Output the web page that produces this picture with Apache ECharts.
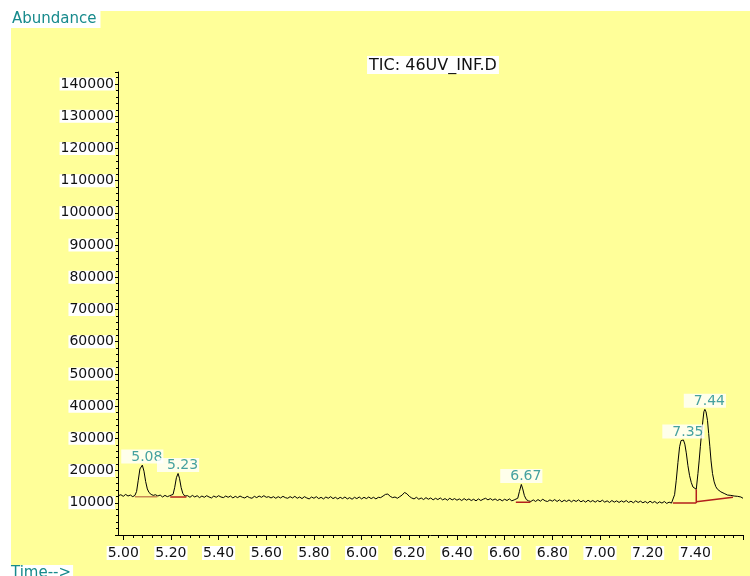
<!DOCTYPE html>
<html>
<head>
<meta charset="utf-8">
<script src="https://cdn.jsdelivr.net/npm/echarts@6/dist/echarts.min.js"></script>
<style>
  html, body { margin: 0; padding: 0; background: #ffffff; }
  #chart { width: 750px; height: 576px; }
</style>
</head>
<body>
<div id="chart"></div>
<script>
// Total ion chromatogram: retention time (min) and abundance of each scan
const retentionTime = [
  4.98, 4.99, 5.00, 5.01, 5.02, 5.03, 5.04,
  5.049, 5.056, 5.063, 5.070, 5.080, 5.087, 5.094, 5.101, 5.108, 5.117, 5.126, 5.135, 5.145,
  5.155, 5.165, 5.175, 5.185, 5.195,
  5.202, 5.209, 5.216, 5.223, 5.230, 5.236, 5.243, 5.250, 5.258, 5.266,
  5.27, 5.28, 5.29, 5.30, 5.31, 5.32, 5.33, 5.34, 5.35, 5.36, 5.37, 5.38, 5.39, 5.40,
  5.41, 5.42, 5.43, 5.44, 5.45, 5.46, 5.47, 5.48, 5.49, 5.50,
  5.51, 5.52, 5.53, 5.54, 5.55, 5.56, 5.57, 5.58, 5.59, 5.60,
  5.61, 5.62, 5.63, 5.64, 5.65, 5.66, 5.67, 5.68, 5.69, 5.70,
  5.71, 5.72, 5.73, 5.74, 5.75, 5.76, 5.77, 5.78, 5.79, 5.80,
  5.81, 5.82, 5.83, 5.84, 5.85, 5.86, 5.87, 5.88, 5.89, 5.90,
  5.91, 5.92, 5.93, 5.94, 5.95, 5.96, 5.97, 5.98, 5.99, 6.00,
  6.01, 6.02, 6.03, 6.04, 6.05, 6.06, 6.07,
  6.08, 6.09, 6.10, 6.11, 6.12, 6.13, 6.14, 6.15, 6.16, 6.17, 6.18, 6.19, 6.20,
  6.21, 6.22, 6.23, 6.24, 6.25, 6.26, 6.27, 6.28, 6.29, 6.30,
  6.31, 6.32, 6.33, 6.34, 6.35, 6.36, 6.37, 6.38, 6.39, 6.40,
  6.41, 6.42, 6.43, 6.44, 6.45, 6.46, 6.47, 6.48, 6.49, 6.50,
  6.51, 6.52, 6.53, 6.54, 6.55, 6.56, 6.57, 6.58, 6.59, 6.60,
  6.61, 6.62, 6.63, 6.64,
  6.648, 6.655, 6.662, 6.670, 6.676, 6.683, 6.691, 6.700, 6.710,
  6.72, 6.73, 6.74, 6.75, 6.76, 6.77, 6.78, 6.79, 6.80,
  6.81, 6.82, 6.83, 6.84, 6.85, 6.86, 6.87, 6.88, 6.89, 6.90,
  6.91, 6.92, 6.93, 6.94, 6.95, 6.96, 6.97, 6.98, 6.99, 7.00,
  7.01, 7.02, 7.03, 7.04, 7.05, 7.06, 7.07, 7.08, 7.09, 7.10,
  7.11, 7.12, 7.13, 7.14, 7.15, 7.16, 7.17, 7.18, 7.19, 7.20,
  7.21, 7.22, 7.23, 7.24, 7.25, 7.26, 7.27, 7.28, 7.29, 7.30,
  7.307, 7.313, 7.320, 7.327, 7.334, 7.340, 7.350, 7.356, 7.362, 7.369, 7.376, 7.383, 7.390, 7.397,
  7.404, 7.411, 7.416, 7.421, 7.426, 7.432, 7.436, 7.440, 7.445, 7.451, 7.456, 7.461, 7.466, 7.472,
  7.479, 7.486, 7.493, 7.500, 7.507, 7.514, 7.521, 7.528, 7.535, 7.542, 7.549, 7.556, 7.563, 7.570,
  7.577, 7.584, 7.591, 7.600
];
const abundance = [
  12200, 12500, 12000, 12600, 12100, 12400, 11900,
  12300, 13500, 17000, 20500, 21700, 19800, 16600, 14300, 13200, 12600, 12300, 12500, 12100,
  12400, 11800, 12300, 11900, 12200,
  11900, 12600, 14800, 17800, 19100, 17600, 14700, 12900, 12100, 11800,
  12200, 11700, 12300, 11800, 12200, 11600, 12100, 11700, 12200, 11800, 11500, 12100, 11700, 12200,
  11800, 11600, 12100, 11700, 12100, 11500, 12000, 11600, 12100, 11700,
  11500, 12000, 11600, 11400, 12000, 11600, 12100, 11700, 12200, 11700,
  11900, 11500, 11900, 11400, 11900, 11500, 12000, 11600, 11400, 11900,
  11500, 12000, 11400, 11800, 11300, 11900, 11500, 11200, 11800, 11400,
  11900, 11300, 11700, 11200, 11800, 11400, 11900, 11300, 11700, 11200,
  11700, 11300, 11800, 11200, 11600, 11100, 11700, 11300, 11800, 11200,
  11700, 11300, 11800, 11300, 11700, 11200, 11700,
  11600, 12100, 12600, 12700, 12000, 11600, 11800, 11400, 11900, 12400, 13200, 12800, 12000,
  11500, 11200, 11700, 11100, 11500, 11000, 11600, 11100, 11500, 10900,
  11400, 11000, 11500, 10900, 11300, 10800, 11400, 10900, 11300, 10800,
  11200, 10700, 11300, 10800, 11200, 10700, 11100, 10600, 11200, 10700,
  11100, 11400, 10900, 11300, 10800, 11200, 10700, 11100, 10600, 11100,
  10700, 11200, 10600, 10900,
  10500, 11400, 13500, 15700, 14300, 12200, 11000, 10600, 10400,
  10900, 10400, 11000, 10500, 11100, 10600, 10400, 10900, 10500,
  11000, 10400, 10900, 10300, 10800, 10400, 10900, 10300, 10800, 10400,
  10900, 10300, 10700, 10200, 10800, 10300, 10700, 10200, 10700, 10300,
  10800, 10200, 10600, 10100, 10700, 10200, 10600, 10100, 10600, 10200,
  10700, 10100, 10500, 10000, 10600, 10100, 10500, 10000, 10400, 9900,
  10500, 10000, 10400, 9800, 10300, 9900, 10400, 9800, 10200, 9900,
  10100, 12500, 17000, 22500, 27400, 29300, 29500, 28200, 25500, 21500, 18400, 16300, 14900, 14300,
  14200, 19100, 23000, 27400, 31500, 35700, 38300, 39000, 38200, 35600, 31500, 27400, 23000, 19100,
  16500, 15000, 14200, 13800, 13400, 13000, 12900, 12500, 12400, 12100, 12300, 11900, 12100, 11800,
  12000, 11600, 11800, 11400
];

// Integrated peaks: apex retention time and apex abundance
const peakTimes = [5.08, 5.23, 6.67, 7.35, 7.44];
const peakHeights = [21700, 19100, 15700, 29500, 39000];

// Integration baselines drawn under each peak
const integStartTime = [5.049, 5.197, 6.647, 7.306, 7.404];
const integStartAbund = [11900, 11800, 10150, 9930, 10300];
const integEndTime = [5.143, 5.265, 6.708, 7.404, 7.558];
const integEndAbund = [11900, 11800, 10150, 9930, 11700];
// Valley drop line between the two late peaks
const valleyDropTime = 7.404;
const valleyDropAbund = [9930, 14200];

// Axis ticks
const xTickLabels = ['5.00', '5.20', '5.40', '5.60', '5.80', '6.00', '6.20', '6.40', '6.60', '6.80', '7.00', '7.20', '7.40'];
const xMajorTicks = [5.0, 5.2, 5.4, 5.6, 5.8, 6.0, 6.2, 6.4, 6.6, 6.8, 7.0, 7.2, 7.4, 7.6];
const xMinorStep = 0.04;

const TEAL = '#178a8c';
const FONT = 'DejaVu Sans';
const X_MIN = 4.978, X_MAX = 7.6;

const xMinorTicks = [];
for (let k = 1; 5.0 + k * xMinorStep < X_MAX + 1e-9; k++) {
  const v = +(5.0 + k * xMinorStep).toFixed(2);
  if (!xMajorTicks.some(m => Math.abs(m - v) < 1e-6)) xMinorTicks.push(v);
}

const traceData = retentionTime.map((t, i) => [t, abundance[i]]);

const baselineSeries = integStartTime.map((t0, i) => ({
  type: 'line',
  xAxisIndex: 0,
  data: [[t0, integStartAbund[i]], [integEndTime[i], integEndAbund[i]]],
  showSymbol: false,
  symbol: 'none',
  silent: true,
  z: 3,
  lineStyle: { color: i === 0 ? '#c98b55' : '#b3201c', width: 1.5 }
}));

const chart = echarts.init(document.getElementById('chart'), null, { renderer: 'canvas' });

chart.setOption({
  animation: false,
  backgroundColor: '#ffffff',
  graphic: [
    {
      type: 'rect', z: -100, silent: true,
      shape: { x: 11, y: 11, width: 739, height: 565 },
      style: { fill: '#ffff99' }
    },
    {
      type: 'text', x: 11, y: 11, z: 10,
      style: {
        text: 'Abundance', fill: TEAL, font: '15px "DejaVu Sans"',
        backgroundColor: '#ffffff', padding: [1, 4, 1, 1], lineHeight: 15
      }
    },
    {
      type: 'text', x: 10, y: 565, z: 10,
      style: {
        text: 'Time-->', fill: TEAL, font: '15px "DejaVu Sans"',
        backgroundColor: '#ffffff', padding: [1, 2, 1, 1], lineHeight: 15
      }
    },
    {
      type: 'text', x: 433, y: 56, z: 10,
      style: {
        text: 'TIC: 46UV_INF.D', fill: '#111111', font: '16px "DejaVu Sans"',
        align: 'center', backgroundColor: '#ffffff', padding: [1, 2, 0, 2], lineHeight: 17
      }
    }
  ],
  grid: { left: 118, top: 72, right: 7, bottom: 41, containLabel: false },
  xAxis: [
    {
      type: 'value', min: X_MIN, max: X_MAX,
      axisLine: { show: true, lineStyle: { color: '#000', width: 1 } },
      axisTick: { show: true, customValues: xMajorTicks, length: 5, lineStyle: { color: '#000' } },
      axisLabel: {
        customValues: xTickLabels.map(Number),
        formatter: v => v.toFixed(2),
        color: '#111', fontFamily: FONT, fontSize: 14, margin: 11,
        backgroundColor: '#ffffff', padding: [1, 1, 0, 1], lineHeight: 13
      },
      splitLine: { show: false }
    },
    {
      type: 'value', min: X_MIN, max: X_MAX, position: 'bottom',
      axisLine: { show: false },
      axisTick: { show: true, customValues: xMinorTicks, length: 3, lineStyle: { color: '#000' } },
      axisLabel: { show: false },
      splitLine: { show: false }
    }
  ],
  yAxis: {
    type: 'value', min: 0, max: 143725, interval: 10000,
    axisLine: { show: true, lineStyle: { color: '#000', width: 1 } },
    axisTick: { show: true, length: 3, lineStyle: { color: '#000' } },
    minorTick: { show: true, splitNumber: 5, length: 2, lineStyle: { color: '#000' } },
    axisLabel: {
      showMinLabel: false, showMaxLabel: false,
      formatter: v => String(v),
      color: '#111', fontFamily: FONT, fontSize: 14, margin: 3,
      backgroundColor: '#ffffff', padding: [0, 1, 0, 1], lineHeight: 13
    },
    splitLine: { show: false }
  },
  series: [
    {
      type: 'line', name: 'TIC', data: traceData, xAxisIndex: 0,
      showSymbol: false, symbol: 'none', z: 2,
      lineStyle: { color: '#000', width: 1 }
    },
    ...baselineSeries,
    {
      type: 'line', xAxisIndex: 0,
      data: valleyDropAbund.map(v => [valleyDropTime, v]),
      showSymbol: false, symbol: 'none', z: 3,
      lineStyle: { color: '#b3201c', width: 1.5 }
    },
    {
      type: 'scatter', xAxisIndex: 0, z: 6,
      data: peakTimes.map((t, i) => [t, peakHeights[i]]),
      symbolSize: 1,
      itemStyle: { color: 'rgba(0,0,0,0)' },
      label: {
        show: true, position: 'top', distance: 1,
        formatter: p => p.value[0].toFixed(2),
        color: TEAL, fontFamily: FONT, fontSize: 14,
        backgroundColor: '#ffffff', padding: [1, 1, 0, 10], lineHeight: 13
      }
    }
  ]
});
</script>
</body>
</html>
